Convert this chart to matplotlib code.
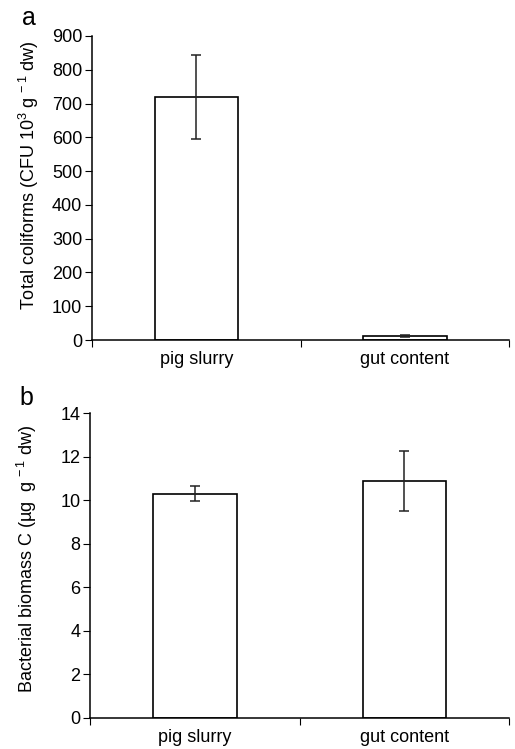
import matplotlib
matplotlib.use("Agg")
import matplotlib.pyplot as plt

plt.rcParams['font.family'] = ['Liberation Sans', 'DejaVu Sans']
plt.rcParams['mathtext.default'] = 'regular'

categories = ["pig slurry", "gut content"]
coliforms = [720, 11]
coliforms_err = [125, 3]
biomass = [10.3, 10.9]
biomass_err = [0.35, 1.38]


def panel(ax, values, errors, ymax, step, ylabel, label_y, letter, letter_y):
    pos = [0.5, 1.5]
    ax.bar(pos, values, width=0.4, color="white", edgecolor="black", linewidth=1.2,
           yerr=errors, capsize=3.5, error_kw=dict(elinewidth=1.1, capthick=1.1, ecolor="#222222"))
    ax.set_xlim(0, 2)
    ax.set_ylim(0, ymax)
    ax.set_yticks(range(0, ymax + 1, step))
    ax.set_xticks([0, 1, 2])
    ax.set_xticklabels([])
    ax.set_xticks(pos, minor=True)
    ax.set_xticklabels(categories, minor=True)
    ax.tick_params(axis="x", which="minor", length=0, pad=8, labelsize=13)
    ax.tick_params(axis="x", which="major", length=5, direction="out")
    ax.tick_params(axis="y", length=5, direction="out", labelsize=13, pad=2)
    for s in ["top", "right"]:
        ax.spines[s].set_visible(False)
    for s in ["left", "bottom"]:
        ax.spines[s].set_linewidth(1.1)
    ax.set_ylabel(ylabel, fontsize=13)
    ax.yaxis.set_label_coords(-0.122, label_y)
    ax.text(-0.168, letter_y, letter, transform=ax.transAxes, fontsize=18, va="baseline")


fig = plt.figure(figsize=(5.15, 7.49), dpi=100)
ax1 = fig.add_axes([0.1786, 0.546, 0.81, 0.406])
ax2 = fig.add_axes([0.1748, 0.0418, 0.814, 0.4064])

panel(ax1, coliforms, coliforms_err, 900, 100,
      "Total coliforms (CFU 10$^3$ g$^{\\,-1}$ dw)", 0.541, "a", 1.036)
panel(ax2, biomass, biomass_err, 14, 2,
      "Bacterial biomass C (µg  g$^{\\,-1}$ dw)", 0.522, "b", 1.026)

fig.savefig("out.png", dpi=100)
